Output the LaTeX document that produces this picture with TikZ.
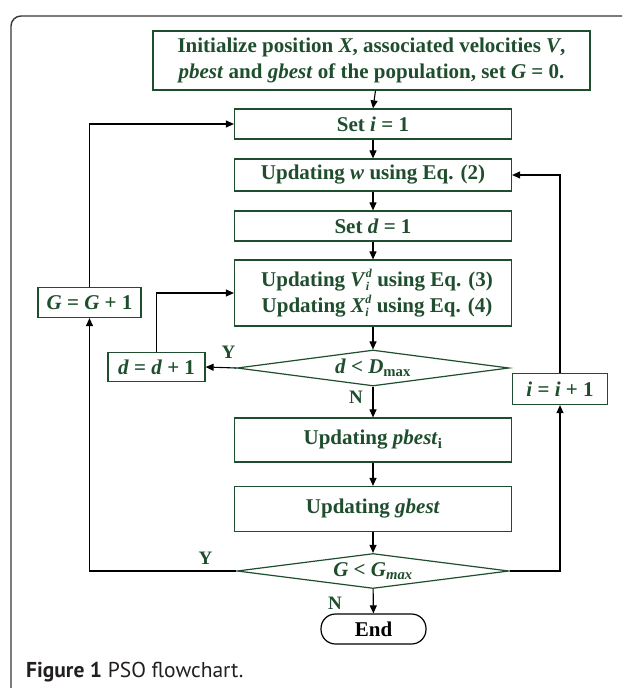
\documentclass[tikz,border=0pt]{standalone}
\usepackage{fontspec}
\setmainfont{Liberation Serif}
\newfontfamily\capfont{PT Sans}
\usetikzlibrary{shapes.geometric,arrows.meta}
\definecolor{boxgreen}{RGB}{30,78,45}
\definecolor{framegray}{RGB}{55,55,55}
\definecolor{capgray}{RGB}{35,31,32}
\newcommand{\bxfont}{\fontsize{21}{26}\selectfont\bfseries}
\newcommand{\lbfont}{\fontsize{19}{22}\selectfont\bfseries}
\newcommand{\scrfont}{\fontsize{12}{12}\selectfont}
\newcommand{\supsub}[2]{\rlap{\raisebox{-4.5pt}{\scrfont\textit{#1}}}\raisebox{9pt}{\scrfont\textit{#2}}}
\begin{document}
\begin{tikzpicture}[x=1pt,y=-1pt,
  flowbox/.style={draw=boxgreen, line width=1.2pt, text=boxgreen, font=\bxfont, inner sep=0pt, align=center},
  decide/.style={flowbox, diamond, aspect=7.5},
  conn/.style={draw=black, line width=1.1pt, -{Triangle[length=8pt,width=7pt]}},
  lab/.style={text=boxgreen, font=\lbfont, inner sep=0pt}
]
\useasboundingbox (0,0) rectangle (622,688);
\fill[white] (0,0) rectangle (622,688);
% outer frame
\draw[framegray, line width=1.4pt, rounded corners=10pt] (11,688) -- (11,16) -- (622,16);

% nodes
\node[flowbox, minimum width=437pt, minimum height=59pt] (init) at (371.5,60.5)
  {Initialize position \textit{X}, associated velocities \textit{V},\\ \textit{pbest} and \textit{gbest} of the population, set \textit{G} = 0.};
\node[flowbox, minimum width=277pt, minimum height=30pt] (seti) at (373,124) {Set \textit{i} = 1};
\node[flowbox, minimum width=277pt, minimum height=32pt] (upw) at (373,175) {Updating \textit{w} using Eq. (2)};
\node[flowbox, minimum width=277pt, minimum height=30pt] (setd) at (373,226) {Set \textit{d} = 1};
\node[flowbox, minimum width=277pt, minimum height=66pt] (upvx) at (373,293)
  {\hspace*{8pt}Updating \textit{V}\supsub{i}{d} using Eq. (3)\\ \hspace*{8pt}Updating \textit{X}\supsub{i}{d} using Eq. (4)};
\node[flowbox, minimum width=103pt, minimum height=30pt] (gg) at (89.5,302.5) {\textit{G} = \textit{G} + 1};
\node[flowbox, minimum width=97pt, minimum height=29pt] (dd) at (156.5,367) {\textit{d} = \textit{d} + 1};
\node[decide, minimum width=272pt, minimum height=36pt] (dia1) at (373,368) {\textit{d} < \textit{D}\textsubscript{max}};
\node[flowbox, minimum width=95pt, minimum height=31pt] (ii) at (560,389) {\textit{i} = \textit{i} + 1};
\node[flowbox, minimum width=277pt, minimum height=44pt] (pb) at (373,440) {Updating \textit{pbest}\textsubscript{i}};
\node[flowbox, minimum width=277pt, minimum height=45pt] (gb) at (373,509) {Updating \textit{gbest}};
\node[decide, minimum width=272pt, minimum height=35pt] (dia2) at (373,571) {\textit{G} < \textit{G}\textsubscript{\textit{max}}};
\node[draw=black, line width=1.2pt, rounded corners=14.5pt, minimum width=105pt, minimum height=30pt, inner sep=0pt, font=\bxfont] (endn) at (373.5,629) {End};

% labels
\node[lab] (y1) at ([shift={(-8,-16)}]dia1.west) {Y};
\node[lab] (n1) at ([shift={(-17,11)}]dia1.south) {N};
\node[lab] (y2) at ([shift={(-31,-13)}]dia2.west) {Y};
\node[lab] (n2) at ([shift={(-38,14)}]dia2.south) {N};

% connectors
\draw[conn] ([xshift=4pt]init.south) -- (seti.north);
\draw[conn] (seti) -- (upw);
\draw[conn] (upw) -- (setd);
\draw[conn] (setd) -- (upvx);
\draw[conn] (upvx) -- (dia1);
\draw[conn] (dia1) -- (pb);
\draw[conn] (pb) -- (gb);
\draw[conn] (gb) -- (dia2);
\draw[conn] (dia2) -- (endn);
\draw[conn] (dia1.west) -- (dd.east);
\draw[conn] (dd.north) |- (upvx.west);
\draw[conn] (dia2.west) -| (gg.south);
\draw[conn] (gg.north) |- (seti.west);
\draw[conn] (dia2.east) -| (ii.south);
\draw[conn] (ii.north) |- (upw.east);

% caption
\node[anchor=west, inner sep=0pt, text=capgray, font=\capfont\fontsize{21.5}{25}\selectfont] (cap) at (26,672) {\textbf{Figure 1} PSO flowchart.};
\end{tikzpicture}
\end{document}
